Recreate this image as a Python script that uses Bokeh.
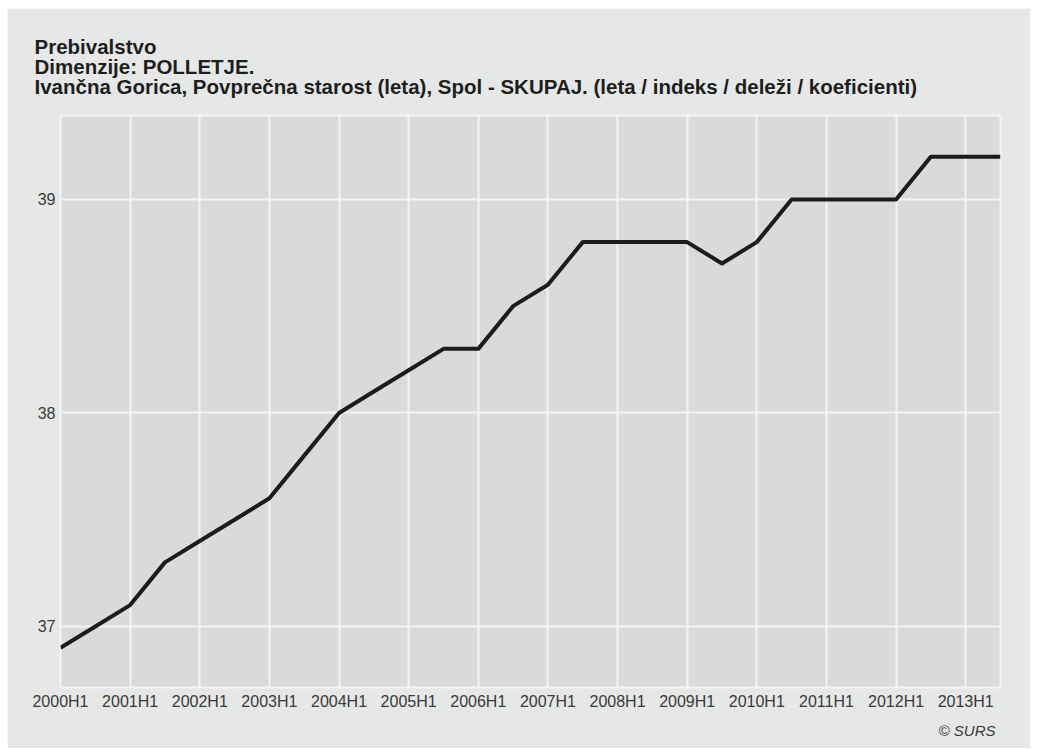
from bokeh.plotting import figure
from bokeh.models import FixedTicker, Title, ColumnDataSource, Range1d
from bokeh.embed import file_html
from bokeh.resources import INLINE

# ---- data ----
periods = ["2000H1", "2000H2", "2001H1", "2001H2", "2002H1", "2002H2",
           "2003H1", "2003H2", "2004H1", "2004H2", "2005H1", "2005H2",
           "2006H1", "2006H2", "2007H1", "2007H2", "2008H1", "2008H2",
           "2009H1", "2009H2", "2010H1", "2010H2", "2011H1", "2011H2",
           "2012H1", "2012H2", "2013H1", "2013H2"]
values = [36.9, 37.0, 37.1, 37.3, 37.4, 37.5,
          37.6, 37.8, 38.0, 38.1, 38.2, 38.3,
          38.3, 38.5, 38.6, 38.8, 38.8, 38.8,
          38.8, 38.7, 38.8, 39.0, 39.0, 39.0,
          39.0, 39.2, 39.2, 39.2]
y_ticks = [37, 38, 39]
title_lines = ["Prebivalstvo",
               "Dimenzije: POLLETJE.",
               "Ivančna Gorica, Povprečna starost (leta), Spol - SKUPAJ. (leta / indeks / deleži / koeficienti)"]
source_note = "© SURS"

FONT = "Liberation Sans"
x_idx = list(range(len(periods)))
src = ColumnDataSource(dict(x=x_idx, y=values, period=periods))
year_ticks = [i for i, s in enumerate(periods) if s.endswith("H1")]

p = figure(width=1023, height=740, output_backend="svg", toolbar_location=None,
           x_range=Range1d(0, len(periods) - 1), y_range=Range1d(36.714, 39.393),
           min_border_left=53, min_border_right=30, min_border_top=107,
           min_border_bottom=61,
           background_fill_color="#d9dadc", border_fill_color="#e6e7e7",
           title=None)
p.margin = (8, 0, 0, 7)

head = Title(text="\n".join(title_lines))
head.text_font = FONT
head.text_font_size = "20.5px"
head.text_font_style = "bold"
head.text_color = "#1e1e1e"
head.text_line_height = 0.87
head.offset = -26
head.standoff = 34
p.add_layout(head, "above")

note = Title(text=source_note, align="right")
note.text_font = FONT
note.text_font_size = "15px"
note.text_font_style = "italic"
note.text_color = "#3a3a3a"
note.offset = 5
note.standoff = 14
p.add_layout(note, "below")

p.line("x", "y", source=src, line_color="#1c1c1c", line_width=4, line_join="round")

p.xaxis.ticker = FixedTicker(ticks=year_ticks)
p.xaxis.major_label_overrides = {i: periods[i] for i in year_ticks}
p.yaxis.ticker = FixedTicker(ticks=y_ticks)
p.xgrid.ticker = FixedTicker(ticks=year_ticks)
p.ygrid.ticker = FixedTicker(ticks=y_ticks)

for ax in (p.xaxis, p.yaxis):
    ax.axis_line_color = None
    ax.major_tick_line_color = None
    ax.minor_tick_line_color = None
    ax.major_tick_in = 0
    ax.major_tick_out = 0
    ax.major_label_text_font = FONT
    ax.major_label_text_font_size = "16px"
    ax.major_label_text_color = "#3a3a3a"
p.xaxis.major_label_standoff = 5
p.yaxis.major_label_standoff = 5

for g in (p.xgrid, p.ygrid):
    g.grid_line_color = "#f4f4f4"
    g.grid_line_width = 2

p.outline_line_color = "#f4f4f4"
p.outline_line_width = 2

open("out.html", "w").write(file_html(p, INLINE))
